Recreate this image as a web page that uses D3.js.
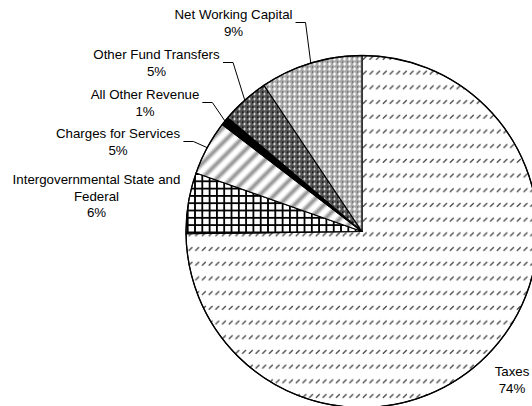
<!DOCTYPE html>
<meta charset="utf-8">
<style>
  body { margin: 0; background: #fff; }
  text { font-family: "Liberation Sans", Arial, sans-serif; font-size: 13.3px; fill: #000; }
</style>
<body>
<script src="https://cdn.jsdelivr.net/npm/d3@7"></script>
<script>

// slice data, clockwise from 12 o'clock
var categories = ["Taxes", "Intergovernmental State and Federal", "Charges for Services",
                  "All Other Revenue", "Other Fund Transfers", "Net Working Capital"];
var values = [74.8, 5.6, 5.0, 0.8, 4.4, 9.4];
var pctLabels = ["74%", "6%", "5%", "1%", "5%", "9%"];
var labelLines = [["Taxes"], ["Intergovernmental State and", "Federal"], ["Charges for Services"],
                  ["All Other Revenue"], ["Other Fund Transfers"], ["Net Working Capital"]];

// layout (label centre x, first baseline y) and whether a leader line is drawn
var labelPos = [[512, 376], [96.5, 184], [118, 138], [145, 99], [156.5, 59], [233.5, 19]];
var hasLeader = [false, false, true, true, true, true];
var fills = ["url(#pTax)", "url(#pGrid)", "url(#pStripe)", "#000", "url(#pDark)", "url(#pLight)"];

var width = 532, height = 406;
var cx = 362, cy = 231.5, r = 176;
var lineH = 16.5;

var svg = d3.select("body").append("svg")
    .attr("width", width)
    .attr("height", height);

var defs = svg.append("defs");

// dashed upward diagonal
var pt = defs.append("pattern").attr("id", "pTax").attr("patternUnits", "userSpaceOnUse")
    .attr("width", 6.7).attr("height", 14.7);
pt.append("rect").attr("width", 6.7).attr("height", 14.7).attr("fill", "#fff");
pt.append("line").attr("x1", 0.8).attr("y1", 4.6).attr("x2", 4.6).attr("y2", 1)
    .attr("stroke", "#444").attr("stroke-width", 1.3);

// large grid
var pg = defs.append("pattern").attr("id", "pGrid").attr("patternUnits", "userSpaceOnUse")
    .attr("width", 7.3).attr("height", 7.3);
pg.append("rect").attr("width", 7.3).attr("height", 7.3).attr("fill", "#fff");
pg.append("rect").attr("width", 7.3).attr("height", 1.8).attr("fill", "#000");
pg.append("rect").attr("width", 1.8).attr("height", 7.3).attr("fill", "#000");

// soft wide diagonal stripes
var grad = defs.append("linearGradient").attr("id", "gStripe")
    .attr("x1", 0).attr("x2", 1).attr("y1", 0).attr("y2", 0);
grad.append("stop").attr("offset", "0%").attr("stop-color", "#fff");
grad.append("stop").attr("offset", "30%").attr("stop-color", "#fff");
grad.append("stop").attr("offset", "65%").attr("stop-color", "#8c8c8c");
grad.append("stop").attr("offset", "100%").attr("stop-color", "#fff");
var ps = defs.append("pattern").attr("id", "pStripe").attr("patternUnits", "userSpaceOnUse")
    .attr("width", 10.5).attr("height", 10).attr("patternTransform", "rotate(45)");
ps.append("rect").attr("width", 10.5).attr("height", 10).attr("fill", "url(#gStripe)");

// dark diamond
var pd = defs.append("pattern").attr("id", "pDark").attr("patternUnits", "userSpaceOnUse")
    .attr("width", 5).attr("height", 5);
pd.append("rect").attr("width", 5).attr("height", 5).attr("fill", "#555");
pd.append("path").attr("d", "M2.5,1.2L3.8,2.5L2.5,3.8L1.2,2.5Z").attr("fill", "#fff");
pd.append("rect").attr("width", 1.4).attr("height", 1.4).attr("fill", "#000");

// light diamond
var pl = defs.append("pattern").attr("id", "pLight").attr("patternUnits", "userSpaceOnUse")
    .attr("width", 5).attr("height", 5);
pl.append("rect").attr("width", 5).attr("height", 5).attr("fill", "#a8a8a8");
pl.append("path").attr("d", "M2.5,0.8L4.2,2.5L2.5,4.2L0.8,2.5Z").attr("fill", "#fff");
pl.append("rect").attr("width", 1.2).attr("height", 1.2).attr("fill", "#555");

var pie = d3.pie().sort(null).value(function(d) { return d; });
var arcs = pie(values);

var arc = d3.arc().innerRadius(0).outerRadius(r);

var g = svg.append("g").attr("transform", "translate(" + cx + "," + cy + ")");

g.selectAll("path.slice")
    .data(arcs)
  .enter().append("path")
    .attr("class", "slice")
    .attr("d", arc)
    .attr("fill", function(d, i) { return fills[i]; })
    .attr("stroke", "#000")
    .attr("stroke-width", 1.1)
    .attr("stroke-linejoin", "round");

// outer rim
g.append("circle").attr("r", r).attr("fill", "none").attr("stroke", "#000").attr("stroke-width", 1.3);

// labels
var labels = svg.selectAll("text.lbl")
    .data(arcs)
  .enter().append("text")
    .attr("class", "lbl")
    .attr("text-anchor", "middle")
    .attr("x", function(d, i) { return labelPos[i][0]; })
    .attr("y", function(d, i) { return labelPos[i][1]; });

labels.each(function(d, i) {
  var t = d3.select(this);
  var lines = labelLines[i].concat([pctLabels[i]]);
  lines.forEach(function(s, k) {
    t.append("tspan")
      .attr("x", labelPos[i][0])
      .attr("dy", k === 0 ? 0 : lineH)
      .text(s);
  });
});

// leader lines: from the end of the first label line to the middle of the slice's rim
labels.each(function(d, i) {
  if (!hasLeader[i]) return;
  var first = d3.select(this).select("tspan").node();
  var bb = first.getBBox();
  var x0 = bb.x + bb.width + 3;
  var y0 = labelPos[i][1] + 3.5;
  var a = (d.startAngle + d.endAngle) / 2;
  var ex = cx + r * Math.sin(a), ey = cy - r * Math.cos(a);
  svg.append("path")
    .attr("d", "M" + x0 + "," + y0 + "H" + (x0 + 10) + "L" + ex + "," + ey)
    .attr("fill", "none")
    .attr("stroke", "#000")
    .attr("stroke-width", 1);
});

</script>
</body>
